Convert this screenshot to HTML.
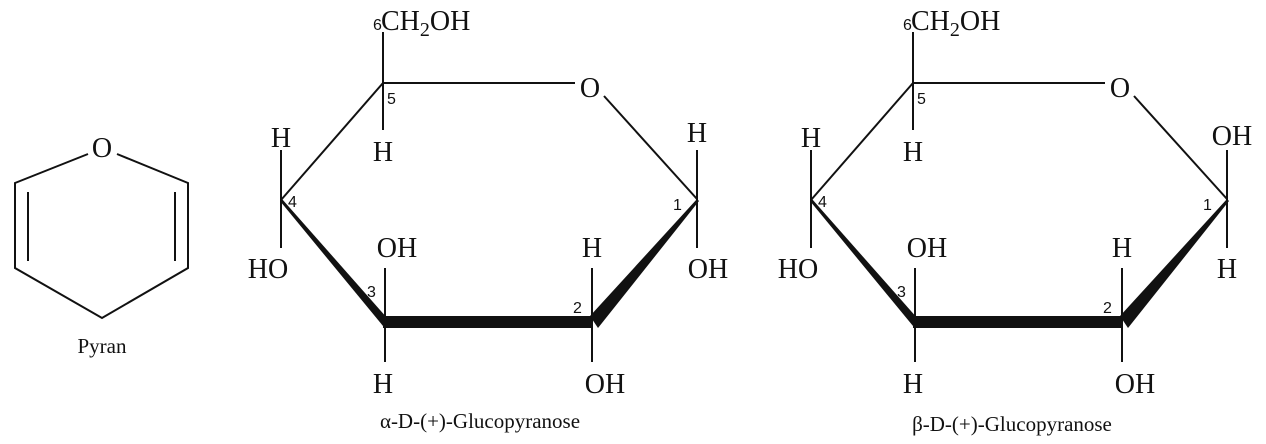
<!DOCTYPE html>
<html><head><meta charset="utf-8"><style>
html,body{margin:0;padding:0;background:#fff;}
svg{display:block}
.t{font-family:"Liberation Serif",serif;font-size:28px;fill:#111}
.n{font-family:"Liberation Sans",sans-serif;font-size:16px;fill:#111}
.c{font-family:"Liberation Serif",serif;font-size:21px;fill:#111}
line,polyline{stroke:#111;stroke-width:2;fill:none}
</style></head><body>
<svg width="1266" height="444" viewBox="0 0 1266 444" xmlns="http://www.w3.org/2000/svg">
<!-- Pyran -->
<polyline points="88,154 15,183 15,268 102,318 188,268 188,183 117,154" stroke-linejoin="miter"/>
<line x1="28" y1="192" x2="28" y2="261"/>
<line x1="175" y1="192" x2="175" y2="261"/>
<text class="t" x="102" y="157" text-anchor="middle">O</text>
<text class="c" x="102" y="353" text-anchor="middle">Pyran</text>

<g id="a">
<line x1="383" y1="32" x2="383" y2="130"/>
<line x1="383" y1="83" x2="575" y2="83"/>
<line x1="604" y1="96" x2="697" y2="199"/>
<line x1="383" y1="83" x2="281" y2="200"/>
<line x1="281" y1="150" x2="281" y2="248"/>
<line x1="385" y1="268" x2="385" y2="362"/>
<line x1="592" y1="268" x2="592" y2="362"/>
<polygon points="280,201 282,199 388,319 383,326" fill="#111"/>
<polygon points="383,316 592,316 592,328 383,328" fill="#111"/>
<polygon points="590,316 697,199 699,201 598,328" fill="#111"/>
<text class="t" x="373" y="30"><tspan class="n" font-size="17">6</tspan><tspan x="381">CH</tspan><tspan font-size="20" dy="6">2</tspan><tspan dy="-6">OH</tspan></text>
<text class="t" x="590" y="97" text-anchor="middle">O</text>
<text class="t" x="383" y="161" text-anchor="middle">H</text>
<text class="t" x="281" y="147" text-anchor="middle">H</text>
<text class="t" x="268" y="278" text-anchor="middle">HO</text>
<text class="t" x="397" y="257" text-anchor="middle">OH</text>
<text class="t" x="383" y="393" text-anchor="middle">H</text>
<text class="t" x="592" y="257" text-anchor="middle">H</text>
<text class="t" x="605" y="393" text-anchor="middle">OH</text>
<text class="n" x="387" y="104">5</text>
<text class="n" x="288" y="207">4</text>
<text class="n" x="367" y="297">3</text>
<text class="n" x="573" y="313">2</text>
</g>
<!-- alpha C1 -->
<line x1="697" y1="150" x2="697" y2="248"/>
<text class="t" x="697" y="142" text-anchor="middle">H</text>
<text class="t" x="708" y="278" text-anchor="middle">OH</text>
<text class="n" x="673" y="210">1</text>
<text class="c" x="480" y="428" text-anchor="middle">α-D-(+)-Glucopyranose</text>

<use href="#a" transform="translate(530,0)"/>
<line x1="1227" y1="150" x2="1227" y2="248"/>
<text class="t" x="1232" y="145" text-anchor="middle">OH</text>
<text class="t" x="1227" y="278" text-anchor="middle">H</text>
<text class="n" x="1203" y="210">1</text>
<text class="c" x="1012" y="431" text-anchor="middle">β-D-(+)-Glucopyranose</text>
</svg>
</body></html>
